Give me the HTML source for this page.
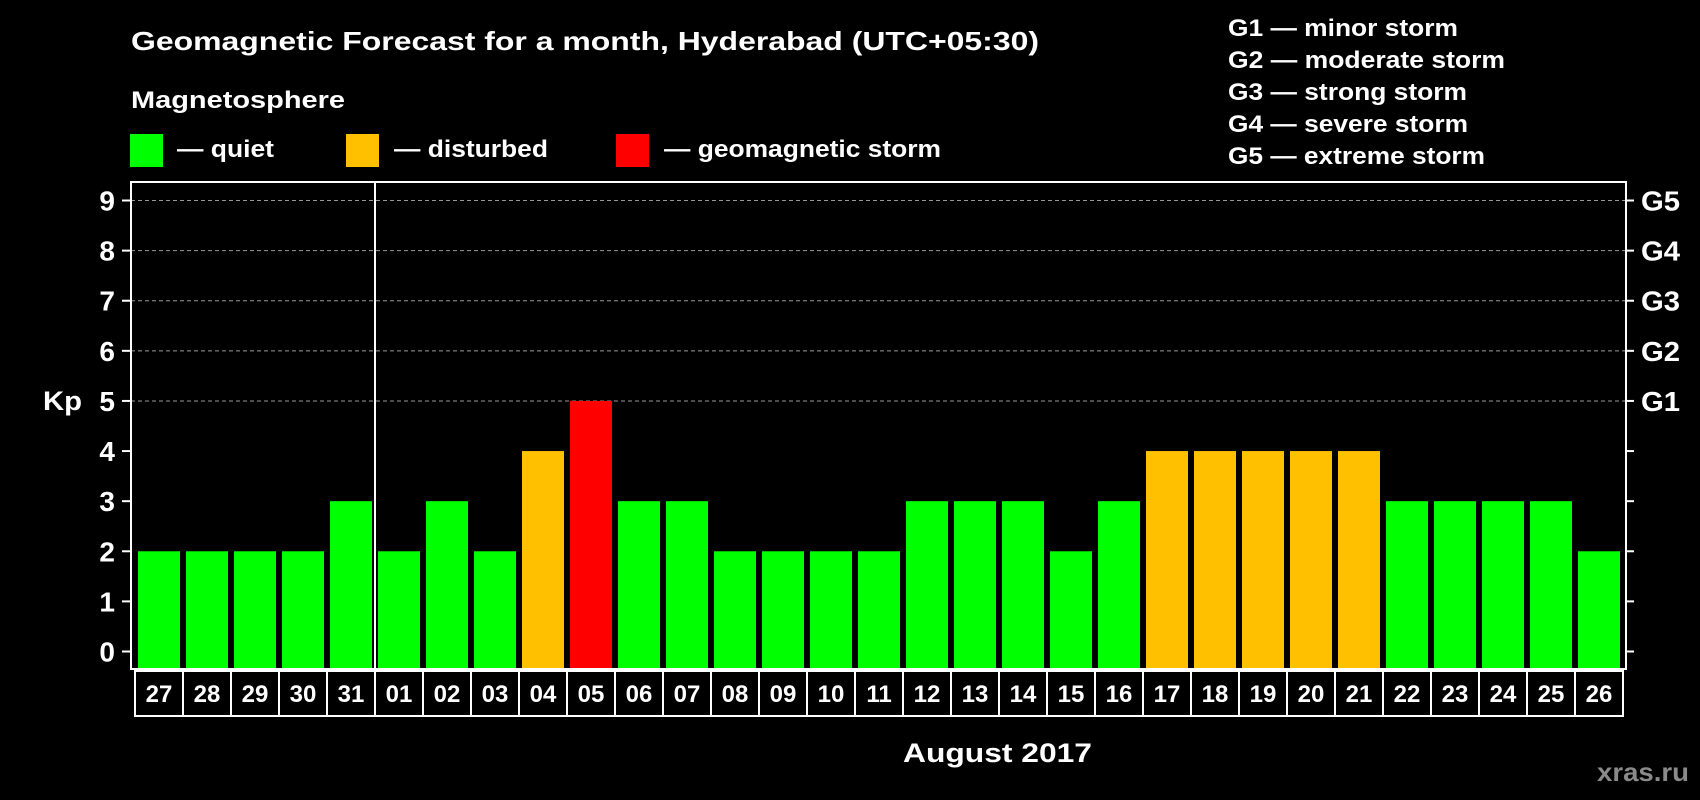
<!DOCTYPE html>
<html><head><meta charset="utf-8"><style>
html,body{margin:0;padding:0;background:#000;}
svg{display:block;font-family:"Liberation Sans",Arial,sans-serif;font-weight:bold;}
</style></head><body>
<svg id="chart" width="1700" height="800" viewBox="0 0 1700 800" xmlns="http://www.w3.org/2000/svg">
<rect width="1700" height="800" fill="#000"/>
<text x="131" y="50" fill="#fff" font-size="26" textLength="908" lengthAdjust="spacingAndGlyphs">Geomagnetic Forecast for a month, Hyderabad (UTC+05:30)</text>
<text x="131" y="108" fill="#fff" font-size="24" textLength="214" lengthAdjust="spacingAndGlyphs">Magnetosphere</text>
<g>
<rect x="130" y="134" width="33" height="33" fill="#00ff00"/>
<text x="177" y="157" fill="#fff" font-size="24" textLength="97" lengthAdjust="spacingAndGlyphs">— quiet</text>
<rect x="346" y="134" width="33" height="33" fill="#ffc000"/>
<text x="394" y="157" fill="#fff" font-size="24" textLength="154" lengthAdjust="spacingAndGlyphs">— disturbed</text>
<rect x="616" y="134" width="33" height="33" fill="#ff0000"/>
<text x="664" y="157" fill="#fff" font-size="24" textLength="277" lengthAdjust="spacingAndGlyphs">— geomagnetic storm</text>
</g>
<g fill="#fff" font-size="24">
<text x="1228" y="36" textLength="230" lengthAdjust="spacingAndGlyphs">G1 — minor storm</text>
<text x="1228" y="68" textLength="277" lengthAdjust="spacingAndGlyphs">G2 — moderate storm</text>
<text x="1228" y="100" textLength="239" lengthAdjust="spacingAndGlyphs">G3 — strong storm</text>
<text x="1228" y="132" textLength="240" lengthAdjust="spacingAndGlyphs">G4 — severe storm</text>
<text x="1228" y="164" textLength="257" lengthAdjust="spacingAndGlyphs">G5 — extreme storm</text>
</g>
<text x="43" y="410" fill="#fff" font-size="27" textLength="39" lengthAdjust="spacingAndGlyphs">Kp</text>
<text x="903" y="762" fill="#fff" font-size="27" textLength="189" lengthAdjust="spacingAndGlyphs">August 2017</text>
<text x="1597" y="781" fill="#8a8a8a" font-size="26" textLength="92" lengthAdjust="spacingAndGlyphs">xras.ru</text>
<g id="plot"></g>
</svg>
<script>
const days = ["27","28","29","30","31","01","02","03","04","05","06","07","08","09","10","11","12","13","14","15","16","17","18","19","20","21","22","23","24","25","26"];
const kp = [2,2,2,2,3,2,3,2,4,5,3,3,2,2,2,2,3,3,3,2,3,4,4,4,4,4,3,3,3,3,2];
const yTicks = [0,1,2,3,4,5,6,7,8,9];
const gLevels = [5,6,7,8,9];
const gLabels = ["G1","G2","G3","G4","G5"];
const monthBreak = 5;

const NS="http://www.w3.org/2000/svg";
const plot=document.getElementById('plot');
const L=131,R=1626,T=182,B=669,Y0=651.5,Y9=200.5;
const y=v=>Y0-(Y0-Y9)*v/9;
const pitch=48, bw=42, x0=138;
const xb=i=>x0+i*pitch;
function mk(tag,attrs){const e=document.createElementNS(NS,tag);for(const k in attrs)e.setAttribute(k,attrs[k]);plot.appendChild(e);return e;}
gLevels.forEach(v=>{
  const g=mk('line',{x1:L,x2:R,y1:y(v),y2:y(v),stroke:'#999','stroke-width':1,'stroke-dasharray':'4,3'});
  
  
});
kp.forEach((v,i)=>{
  const c=v>=5?'#ff0000':(v>=4?'#ffc000':'#00ff00');
  const r=mk('rect',{x:xb(i),y:y(v),width:bw,height:B-y(v),fill:c});
  
  
});
const f=mk('rect',{x:L,y:T,width:R-L,height:B-T,fill:'none',stroke:'#fff','stroke-width':2});


const mx=(xb(monthBreak-1)+bw+xb(monthBreak))/2;
const ml=mk('line',{x1:mx,x2:mx,y1:T,y2:B,stroke:'#fff','stroke-width':2});


yTicks.forEach(v=>{
  const t=mk('line',{x1:122,x2:L,y1:y(v),y2:y(v),stroke:'#fff','stroke-width':2});
  
  
  const t2=mk('line',{x1:R,x2:1634,y1:y(v),y2:y(v),stroke:'#fff','stroke-width':2});
  
  
  const l=mk('text',{x:115,y:y(v)+10,fill:'#fff','font-size':28,'text-anchor':'end'});
  l.textContent=v;
  
  
});
gLevels.forEach((v,i)=>{
  const l=mk('text',{x:1641,y:y(v)+10,fill:'#fff','font-size':28,textLength:39,lengthAdjust:'spacingAndGlyphs'});
  l.textContent=gLabels[i];
  
  
});
days.forEach((d,i)=>{
  const bx=xb(i)-3;
  const r=mk('rect',{x:bx,y:671,width:pitch,height:45,fill:'#000',stroke:'#fff','stroke-width':2});
  
  
  const t=mk('text',{x:bx+pitch/2,y:702,fill:'#fff','font-size':24,'text-anchor':'middle'});
  t.textContent=d;
  
  
});
</script>
</body></html>
